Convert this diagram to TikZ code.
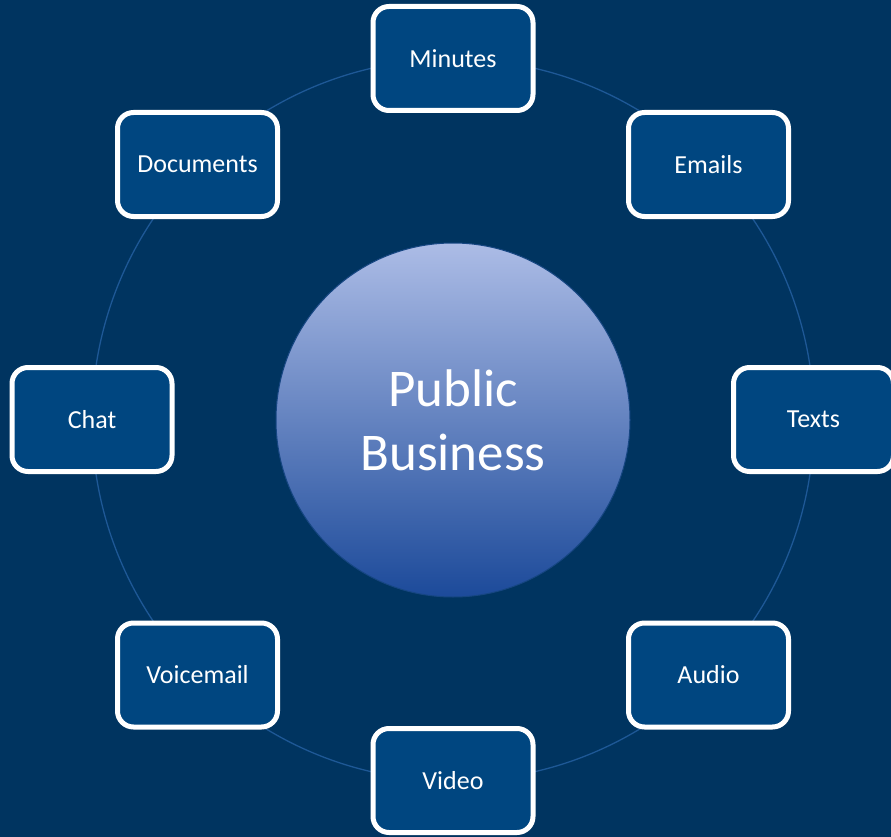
\documentclass[tikz,border=0pt]{standalone}
\usepackage{fontspec}
\setmainfont{Carlito}
\definecolor{bg}{RGB}{0,52,96}
\definecolor{boxfill}{RGB}{0,70,128}
\definecolor{ring}{RGB}{30,88,150}
\definecolor{ctop}{RGB}{172,188,230}
\definecolor{cmid}{RGB}{128,146,200}
\definecolor{cbot}{RGB}{28,74,154}
\definecolor{cedge}{RGB}{22,70,130}
\begin{document}
\begin{tikzpicture}[x=1pt,y=-1pt,
  itembox/.style={draw=white, line width=5pt, fill=boxfill, rounded corners=16pt,
    minimum width=160pt, minimum height=104pt, inner sep=0pt,
    text=white, font=\fontsize{26}{30}\selectfont},
  hub/.style={circle, minimum size=354pt, inner sep=0pt, draw=cedge, line width=1pt,
    top color=ctop, middle color=cmid, bottom color=cbot, text=white, align=center,
    font=\fontsize{53}{64}\selectfont},
  ringline/.style={draw=ring, line width=1.3pt}]
\fill[bg] (0,0) rectangle (891,837);
\useasboundingbox (0,0) rectangle (891,837);
\coordinate (ctr) at (453,420);
\draw[ringline] (ctr) circle (361);
\node[hub] (pb) at (ctr) {Public\\Business};
\node[itembox] (minutes) at (453,58.5) {Minutes};
\node[itembox] (emails) at (708.5,164.5) {Emails};
\node[itembox] (texts) at (813.5,419.5) {Texts};
\node[itembox] (audio) at (708.5,675) {Audio};
\node[itembox] (video) at (453,780.5) {Video};
\node[itembox] (voicemail) at (197.5,675) {Voicemail};
\node[itembox] (chat) at (92,419.5) {Chat};
\node[itembox] (documents) at (197.5,164.5) {Documents};
\end{tikzpicture}
\end{document}
